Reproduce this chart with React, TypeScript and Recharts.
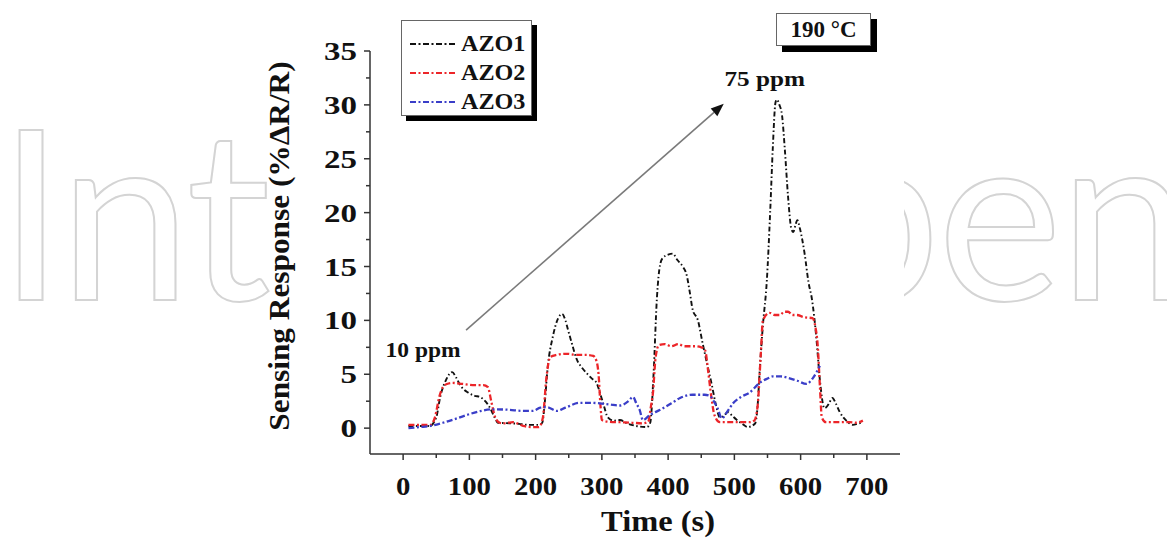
import React from 'react';
import { LineChart, Line, XAxis, YAxis, Legend, ReferenceLine } from 'recharts';

const FONT = '"Liberation Serif", "Times New Roman", serif';

// [time (s), response (%ΔR/R)]
const azo1Raw: [number, number][] = [
  [8, 0.2], [40, 0.2], [50, 1.0], [56, 2.9], [65, 4.5], [74, 5.2], [80, 4.7], [86, 4.0], [98, 3.3], [108, 3.0],
  [116, 2.9], [124, 2.5], [131, 1.9], [138, 1.0], [143, 0.5], [161, 0.45], [175, 0.4], [190, 0.3], [205, 0.3],
  [210, 0.5], [214, 2.5], [218, 5.5], [226, 8.5], [234, 10.2], [240, 10.6], [245, 10.0], [249, 9.1], [255, 7.8],
  [262, 6.4], [270, 5.6], [277, 5.1], [285, 4.6], [292, 4.2], [297, 3.3], [302, 2.3], [309, 1.0], [318, 0.7],
  [327, 0.75], [340, 0.4], [352, 0.2], [368, 0.1], [373, 0.5], [378, 5], [383, 12], [388, 15.2], [392, 15.8],
  [400, 16.1], [407, 16.2], [414, 15.6], [422, 15.0], [428, 14.2], [433, 12.5], [437, 11.0], [445, 10.0],
  [452, 7.9], [458, 6.2], [466, 4.0], [472, 2.2], [478, 1.0], [485, 1.2], [490, 1.5], [496, 1.2], [503, 0.8],
  [512, 0.4], [520, 0.1], [531, 0.4], [535, 2], [538, 5.1], [543, 9.5], [549, 13.7], [554, 20], [558, 26],
  [562, 30.2], [564, 30.5], [568, 30.0], [572, 29.0], [576, 26], [581, 21.5], [586, 18.5], [589, 18.2],
  [592, 18.8], [595, 19.3], [599, 18.5], [606, 16.2], [612, 13.5], [617, 12.0], [624, 8.2], [629, 4.5],
  [636, 1.85], [642, 2.2], [648, 2.8], [653, 2.3], [659, 1.5], [669, 0.7], [679, 0.3], [686, 0.4], [694, 0.55],
];

const azo2Raw: [number, number][] = [
  [8, 0.3], [30, 0.3], [41, 0.3], [48, 1.0], [55, 3.0], [60, 3.8], [66, 4.1], [74, 4.2], [90, 4.1], [105, 4.0],
  [121, 4.0], [128, 3.8], [133, 2.5], [139, 1.0], [146, 0.5], [151, 0.45], [158, 0.5], [166, 0.55], [174, 0.4],
  [181, 0.2], [195, 0.1], [205, 0.1], [211, 1.0], [216, 4.5], [222, 6.6], [232, 6.8], [247, 6.9], [262, 6.8],
  [277, 6.8], [287, 6.7], [292, 6.2], [295, 5.0], [298, 2.0], [300, 0.75], [310, 0.6], [327, 0.55], [345, 0.5],
  [362, 0.45], [370, 0.6], [374, 2.0], [377, 3.2], [381, 6.5], [386, 7.7], [395, 7.8], [405, 7.6], [415, 7.8],
  [425, 7.6], [440, 7.6], [450, 7.5], [456, 7.2], [460, 5.5], [465, 3.0], [470, 1.2], [478, 0.55], [500, 0.55],
  [523, 0.55], [530, 0.7], [535, 2.0], [540, 7.0], [543, 10.0], [553, 10.7], [561, 10.5], [569, 10.5],
  [575, 10.8], [581, 10.8], [588, 10.5], [594, 10.5], [605, 10.3], [618, 10.2], [622, 9.5], [626, 7.5],
  [629, 4.0], [632, 1.0], [638, 0.55], [660, 0.55], [674, 0.55], [684, 0.5], [694, 0.7],
];

const azo3Raw: [number, number][] = [
  [8, 0.0], [25, 0.1], [41, 0.2], [60, 0.5], [81, 0.9], [100, 1.3], [118, 1.6], [136, 1.75], [160, 1.7],
  [180, 1.6], [196, 1.6], [207, 1.9], [217, 1.95], [232, 1.6], [245, 1.9], [267, 2.35], [282, 2.35], [297, 2.3],
  [312, 2.2], [327, 2.1], [340, 2.5], [347, 2.9], [352, 2.3], [357, 1.7], [362, 0.75], [372, 1.2], [388, 1.7],
  [405, 2.3], [418, 2.8], [437, 3.1], [455, 3.1], [463, 3.0], [468, 2.6], [475, 1.8], [481, 0.9], [490, 1.6],
  [498, 2.3], [510, 2.9], [523, 3.3], [538, 4.2], [550, 4.6], [558, 4.8], [570, 4.8], [579, 4.7], [595, 4.4],
  [609, 4.1], [618, 4.6], [625, 5.3], [629, 5.8],
];

const xTicks = [0, 50, 100, 150, 200, 250, 300, 350, 400, 450, 500, 550, 600, 650, 700];
const yTicks = [0, 2.5, 5, 7.5, 10, 12.5, 15, 17.5, 20, 22.5, 25, 27.5, 30, 32.5, 35];

const seriesNames = ['AZO1', 'AZO2', 'AZO3'];
const seriesColors = ['#111111', '#ec2529', '#3a3ec8'];

const toRows = (raw: [number, number][]) => raw.map(([t, v]) => ({ t, v }));
const seriesData = [toRows(azo1Raw), toRows(azo2Raw), toRows(azo3Raw)];

const arrowStart = { x: 95, y: 9.1 };
const arrowEnd = { x: 484, y: 30.1 };

const XTick = (props: any) => {
  const { x, y, payload } = props;
  const major = payload.value % 100 === 0;
  return (
    <g>
      <line x1={x} y1={y} x2={x} y2={y + (major ? 6 : 4)} stroke="#333" strokeWidth={1.5} />
      {major && (
        <text
          transform={`translate(${x} ${y + 41}) scale(1.15 1)`}
          textAnchor="middle"
          fontSize={25}
          fontWeight="bold"
          fontFamily={FONT}
          fill="#111"
        >
          {payload.value}
        </text>
      )}
    </g>
  );
};

const YTick = (props: any) => {
  const { x, y, payload } = props;
  const major = payload.value % 5 === 0;
  return (
    <g>
      <line x1={x} y1={y} x2={x - (major ? 6 : 4)} y2={y} stroke="#333" strokeWidth={1.5} />
      {major && (
        <text
          transform={`translate(${x - 13} ${y + 9}) scale(1.32 1)`}
          textAnchor="end"
          fontSize={25}
          fontWeight="bold"
          fontFamily={FONT}
          fill="#111"
        >
          {payload.value}
        </text>
      )}
    </g>
  );
};

const ArrowShape = (props: any) => {
  const { x1, y1, x2, y2 } = props;
  const dx = x2 - x1;
  const dy = y2 - y1;
  const len = Math.sqrt(dx * dx + dy * dy);
  const ux = dx / len;
  const uy = dy / len;
  const hl = 13;
  const hw = 5;
  const bx = x2 - ux * hl;
  const by = y2 - uy * hl;
  const pts = `${x2},${y2} ${bx - uy * hw},${by + ux * hw} ${bx + uy * hw},${by - ux * hw}`;
  return (
    <g>
      <line x1={x1} y1={y1} x2={bx} y2={by} stroke="#7a7a7a" strokeWidth={1.6} />
      <polygon points={pts} fill="#111" />
      <text
        transform={`translate(${x1 - 43} ${y1 + 27}) scale(1.12 1)`}
        textAnchor="middle"
        fontSize={21}
        fontWeight="bold"
        fontFamily={FONT}
        fill="#111"
      >
        10 ppm
      </text>
      <text
        transform={`translate(${x2 + 41} ${y2 - 18}) scale(1.2 1)`}
        textAnchor="middle"
        fontSize={21}
        fontWeight="bold"
        fontFamily={FONT}
        fill="#111"
      >
        75 ppm
      </text>
    </g>
  );
};

const LegendBox = () => (
  <div
    style={{
      width: 131,
      height: 96,
      background: '#fff',
      border: '1px solid #666',
      boxShadow: '5px 5px 0 #000',
      boxSizing: 'border-box',
      paddingTop: 8,
    }}
  >
    {seriesNames.map((n, i) => (
      <div key={n} style={{ display: 'flex', alignItems: 'center', height: 29 }}>
        <svg width={51} height={10} style={{ marginLeft: 8 }}>
          <line
            x1={0}
            y1={5}
            x2={47}
            y2={5}
            stroke={seriesColors[i]}
            strokeWidth={2.2}
            strokeDasharray="6 2.5 2 2.5"
          />
        </svg>
        <span
          style={{
            fontFamily: FONT,
            fontWeight: 'bold',
            fontSize: 23,
            color: '#111',
            display: 'inline-block',
            transform: 'scaleX(1.05)',
            transformOrigin: 'left center',
          }}
        >
          {n}
        </span>
      </div>
    ))}
  </div>
);

export default function App() {
  return (
    <div style={{ position: 'relative', width: 1167, height: 538, background: '#fff', overflow: 'hidden' }}>
      <style>{`body{margin:0;}`}</style>
      <svg width={1167} height={538} style={{ position: 'absolute', left: 0, top: 0 }}>
        <text
          x={-2}
          y={300}
          fontSize={236}
          fontFamily="Lato, 'Open Sans', sans-serif"
          fontWeight={400}
          fill="#fff"
          stroke="#d4d4d4"
          strokeWidth={2}
          letterSpacing={-3}
        >
          IntechOpen
        </text>
      </svg>
      <div style={{ position: 'absolute', left: 274, top: 0, width: 630, height: 538, background: '#fff' }} />
      <div style={{ position: 'absolute', left: 0, top: 0 }}>
        <LineChart width={1167} height={538} margin={{ top: 51, right: 267, bottom: 24, left: 310 }}>
          <XAxis
            dataKey="t"
            type="number"
            domain={[-50, 750]}
            ticks={xTicks}
            interval={0}
            tickSize={0}
            tickMargin={0}
            tickLine={false}
            tick={<XTick />}
            height={60}
            axisLine={{ stroke: '#333', strokeWidth: 1.5 }}
            allowDataOverflow
          />
          <YAxis
            type="number"
            domain={[-2.4, 35]}
            ticks={yTicks}
            interval={0}
            tickSize={0}
            tickMargin={0}
            tickLine={false}
            tick={<YTick />}
            width={60}
            axisLine={{ stroke: '#333', strokeWidth: 1.5 }}
            allowDataOverflow
          />
          {seriesData.map((d, i) => (
            <Line
              key={seriesNames[i]}
              data={d}
              dataKey="v"
              name={seriesNames[i]}
              type="monotone"
              stroke={seriesColors[i]}
              strokeWidth={i === 0 ? 1.9 : 2.3}
              strokeDasharray={i === 0 ? '5 2.5 1.5 2.5' : '6 2.5 2 2.5'}
              dot={false}
              activeDot={false}
              isAnimationActive={false}
            />
          ))}
          <ReferenceLine
            segment={[arrowStart, arrowEnd]}
            ifOverflow="visible"
            shape={<ArrowShape />}
          />
          <Legend
            layout="horizontal"
            verticalAlign="middle"
            align="center"
            content={<LegendBox />}
            wrapperStyle={{ left: 401, top: 20, width: 140, height: 104 }}
          />
        </LineChart>
      </div>
      <svg width={1167} height={538} style={{ position: 'absolute', left: 0, top: 0, pointerEvents: 'none' }}>
        <text
          transform="translate(289 246) rotate(-90) scale(1.08 1)"
          textAnchor="middle"
          fontSize={29}
          fontWeight="bold"
          fontFamily={FONT}
          fill="#111"
        >
          Sensing Response (%ΔR/R)
        </text>
        <text
          transform="translate(658 531) scale(1.12 1)"
          textAnchor="middle"
          fontSize={29}
          fontWeight="bold"
          fontFamily={FONT}
          fill="#111"
        >
          Time (s)
        </text>
      </svg>
      <div
        style={{
          position: 'absolute',
          left: 776,
          top: 13,
          width: 95,
          height: 33,
          background: '#fff',
          border: '1px solid #666',
          boxShadow: '6px 6px 0 #000',
          boxSizing: 'border-box',
          display: 'flex',
          alignItems: 'center',
          justifyContent: 'center',
          fontFamily: FONT,
          fontWeight: 'bold',
          fontSize: 23,
          color: '#111',
        }}
      >
        190 °C
      </div>
    </div>
  );
}
